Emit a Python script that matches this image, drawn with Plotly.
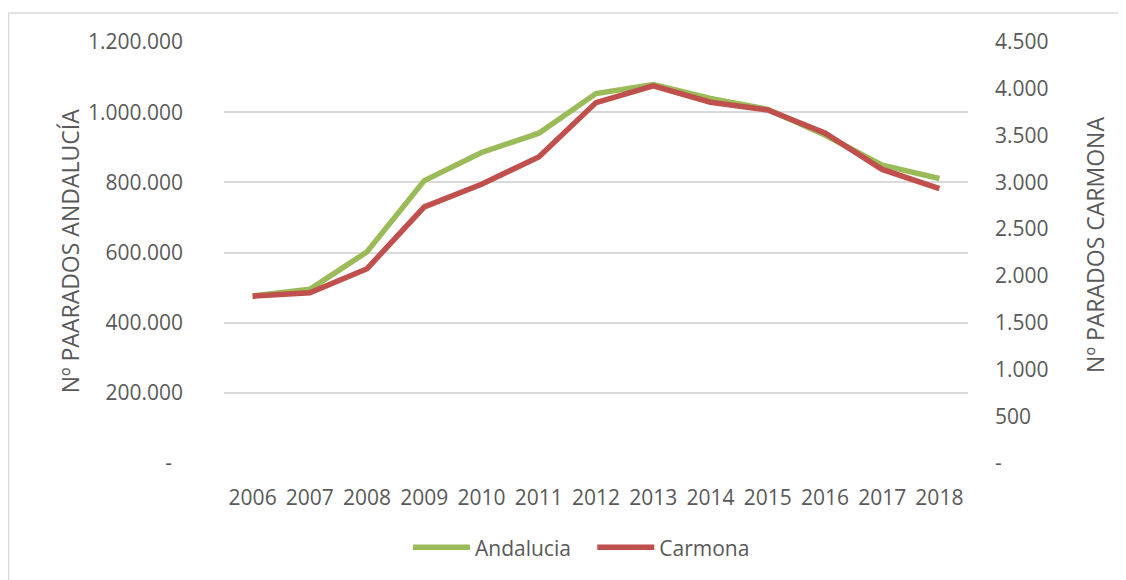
import plotly.graph_objects as go

years = ["2006", "2007", "2008", "2009", "2010", "2011", "2012",
         "2013", "2014", "2015", "2016", "2017", "2018"]
andalucia = [476000, 495000, 602000, 805000, 885000, 940000, 1053000,
             1079000, 1039000, 1008000, 935000, 849000, 811000]
carmona = [1783, 1819, 2077, 2738, 2979, 3272, 3852,
           4032, 3856, 3774, 3527, 3138, 2933]

left_ticks = [0, 200000, 400000, 600000, 800000, 1000000, 1200000]
left_text = ["-\u00a0\u00a0", "200.000", "400.000", "600.000", "800.000", "1.000.000", "1.200.000"]
right_ticks = [0, 500, 1000, 1500, 2000, 2500, 3000, 3500, 4000, 4500]
right_text = ["-", "500", "1.000", "1.500", "2.000", "2.500", "3.000", "3.500", "4.000", "4.500"]

GREEN = "#9BBB59"
RED = "#C0504D"
TXT = "#595959"
GRID = "#D9D9D9"
FONT = "Open Sans"

fig = go.Figure()
fig.add_trace(go.Scatter(x=years, y=andalucia, name="Andalucia\u00a0\u00a0\u00a0", mode="lines",
                         line=dict(color=GREEN, width=5.5), yaxis="y"))
fig.add_trace(go.Scatter(x=years, y=carmona, name="Carmona", mode="lines",
                         line=dict(color=RED, width=5.5), yaxis="y2"))

OFF = 8  # page body margin
W, H = 1126 - OFF, 580 - OFF
# plot area in page pixels
L, R, T, B = 224, 968, 41.6, 465.7
pw, ph = R - L, B - T

def px_x(x):
    return (x - L) / pw

def px_y(y):
    return (B - y) / ph

fig.update_layout(
    width=W, height=H,
    margin=dict(l=L - OFF, r=W - (R - OFF), t=T - OFF, b=H - (B - OFF), pad=0),
    paper_bgcolor="white", plot_bgcolor="white",
    font=dict(family=FONT, size=21, color=TXT),
    xaxis=dict(type="category", range=[-0.5, 12.5], showgrid=False,
               showline=False, zeroline=False, ticks="",
               ticklabelstandoff=20, tickfont=dict(size=21, color=TXT)),
    yaxis=dict(range=[0, 1200000], tickvals=left_ticks, ticktext=left_text,
               showgrid=True, gridcolor=GRID, gridwidth=1.5, zeroline=False,
               showline=False, ticks="", ticklabelstandoff=40,
               tickfont=dict(size=21, color=TXT)),
    yaxis2=dict(range=[0, 4500], tickvals=right_ticks, ticktext=right_text,
                overlaying="y", side="right", showgrid=False, zeroline=False,
                showline=False, ticks="", ticklabelstandoff=26,
                tickfont=dict(size=21, color=TXT)),
    showlegend=True,
    legend=dict(orientation="h", x=px_x(408), xanchor="left", y=px_y(551),
                yanchor="middle", font=dict(size=21, color=TXT),
                itemwidth=57, tracegroupgap=0, bgcolor="rgba(0,0,0,0)"),
    annotations=[
        dict(text="Nº PAARADOS ANDALUCÍA", xref="paper", yref="paper",
             x=px_x(70), y=px_y(252.5), textangle=-90, showarrow=False,
             xanchor="center", yanchor="middle",
             font=dict(size=23, color=TXT, family=FONT)),
        dict(text="Nº PARADOS CARMONA", xref="paper", yref="paper",
             x=px_x(1095), y=px_y(246), textangle=-90, showarrow=False,
             xanchor="center", yanchor="middle",
             font=dict(size=23, color=TXT, family=FONT)),
    ],
    shapes=[
        dict(type="line", xref="paper", yref="paper",
             x0=px_x(8.5), x1=px_x(8.5), y0=px_y(585), y1=px_y(12.5),
             line=dict(color=GRID, width=1.5), layer="below"),
        dict(type="line", xref="paper", yref="paper",
             x0=px_x(8.5), x1=px_x(1130), y0=px_y(12.5), y1=px_y(12.5),
             line=dict(color=GRID, width=1.5), layer="below"),
    ],
)

fig.write_html("out.html")
